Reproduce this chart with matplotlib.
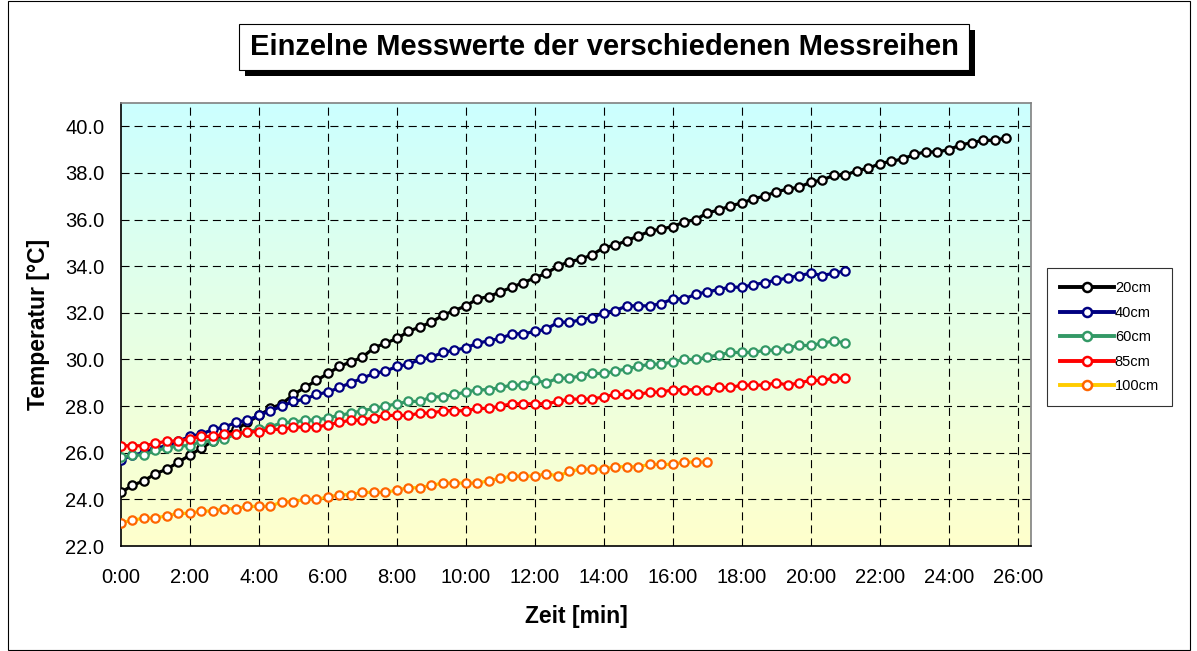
import numpy as np
import matplotlib
matplotlib.use('Agg')
import matplotlib.pyplot as plt
from matplotlib.lines import Line2D
from matplotlib.patches import Rectangle

plt.rcParams['font.family'] = ['Liberation Sans', 'DejaVu Sans']
plt.rcParams['lines.scale_dashes'] = False

# readings every 20 s
interval_s = 20

t_20cm = [24.3, 24.6, 24.8, 25.1, 25.3, 25.6, 25.9,
          26.2, 26.5, 26.8, 27.0, 27.3,
          27.6, 27.9, 28.1, 28.5, 28.8, 29.1, 29.4,
          29.7, 29.9, 30.1, 30.5, 30.7, 30.9, 31.2, 31.4, 31.6, 31.9, 32.1, 32.3, 32.6, 32.7, 32.9, 33.1, 33.3,
          33.5, 33.7, 34.0, 34.2, 34.3, 34.5, 34.8, 34.9, 35.1, 35.3, 35.5, 35.6, 35.7, 35.9,
          36.0, 36.3, 36.4, 36.6, 36.7, 36.9, 37.0, 37.2, 37.3, 37.4,
          37.6, 37.7, 37.9, 37.9, 38.1, 38.2, 38.4, 38.5, 38.6, 38.8, 38.9, 38.9, 39.0, 39.2, 39.3, 39.4, 39.4, 39.5]

t_40cm = [25.7, 25.9, 26.0, 26.2, 26.3, 26.5, 26.7, 26.8,
          27.0, 27.1, 27.3, 27.4, 27.6, 27.8, 28.0, 28.2, 28.3, 28.5, 28.6,
          28.8, 29.0, 29.2, 29.4, 29.5, 29.7, 29.8, 30.0, 30.1, 30.3, 30.4, 30.5, 30.7, 30.8, 30.9, 31.1, 31.1,
          31.2, 31.3, 31.6, 31.6, 31.7,
          31.8, 32.0, 32.1, 32.3, 32.3, 32.3, 32.4, 32.6, 32.6, 32.8, 32.9, 33.0, 33.1, 33.1, 33.2, 33.3,
          33.4, 33.5, 33.6, 33.7,
          33.6, 33.7, 33.8]

t_60cm = [25.8, 25.9, 25.9, 26.1, 26.2, 26.3, 26.3, 26.5, 26.5,
          26.6, 26.8, 26.9, 27.0,
          27.1, 27.3, 27.3, 27.4, 27.4, 27.5,
          27.6, 27.7, 27.8, 27.9, 28.0, 28.1, 28.2, 28.2, 28.4, 28.4, 28.5, 28.6, 28.7, 28.7, 28.8, 28.9,
          28.9, 29.1, 29.0, 29.2, 29.2, 29.3,
          29.4, 29.4, 29.5, 29.6, 29.7, 29.8, 29.8, 29.9, 30.0, 30.0, 30.1, 30.2, 30.3, 30.3, 30.3, 30.4,
          30.4, 30.5, 30.6, 30.6,
          30.7, 30.8, 30.7]

t_85cm = [26.3, 26.3, 26.3, 26.4, 26.5, 26.5, 26.6, 26.7, 26.7, 26.8, 26.8, 26.9, 26.9, 27.0, 27.0,
          27.1, 27.1, 27.1, 27.2,
          27.3, 27.4, 27.4, 27.5, 27.6, 27.6, 27.6, 27.7, 27.7, 27.8, 27.8, 27.8, 27.9, 27.9, 28.0,
          28.1, 28.1, 28.1, 28.1, 28.2,
          28.3, 28.3, 28.3, 28.4, 28.5, 28.5, 28.5, 28.6, 28.6, 28.7, 28.7, 28.7, 28.7, 28.8, 28.8,
          28.9, 28.9, 28.9, 29.0, 28.9, 29.0, 29.1, 29.1, 29.2, 29.2]

t_100cm = [23.0, 23.1, 23.2, 23.2, 23.3, 23.4, 23.4, 23.5, 23.5, 23.6, 23.6, 23.7, 23.7, 23.7,
           23.9, 23.9, 24.0, 24.0, 24.1,
           24.2, 24.2, 24.3, 24.3, 24.3, 24.4, 24.5, 24.5, 24.6, 24.7, 24.7, 24.7, 24.7, 24.8, 24.9,
           25.0, 25.0, 25.0, 25.1, 25.0,
           25.2, 25.3, 25.3, 25.3, 25.4, 25.4, 25.4, 25.5, 25.5, 25.5, 25.6, 25.6, 25.6]

labels = ['20cm', '40cm', '60cm', '85cm', '100cm']
series = [t_20cm, t_40cm, t_60cm, t_85cm, t_100cm]
line_colors = ['#000000', '#000080', '#339966', '#FF0000', '#FFCC00']
marker_colors = ['#000000', '#000080', '#339966', '#FF0000', '#FF6600']

x_ticks = list(range(0, 27, 2))
x_ticklabels = ['%d:00' % m for m in x_ticks]
y_ticks = list(range(22, 41, 2))

W, H = 1197, 651
fig = plt.figure(figsize=(W / 100, H / 100), dpi=100)
fig.patch.set_facecolor('white')

ax = fig.add_axes([121 / W, 1 - 546 / H, (1031 - 121) / W, (546 - 103) / H])

# background gradient (cyan at top -> light yellow at bottom)
grad = np.linspace(0, 1, 256).reshape(-1, 1)
top = np.array([0.80, 1.0, 1.0])
bot = np.array([1.0, 1.0, 0.80])
img = top[None, None, :] * (1 - grad[:, :, None]) + bot[None, None, :] * grad[:, :, None]
ax.imshow(img, extent=[0, 1, 0, 1], transform=ax.transAxes, aspect='auto', zorder=0)

handles = []
for vals, lab, lc, mc in zip(series, labels, line_colors, marker_colors):
    t_min = np.arange(len(vals)) * interval_s / 60.0
    ax.plot(t_min, vals, color=lc, lw=2.3, marker='o', ms=6, mfc='white',
            mec=mc, mew=1.6, zorder=3)
    handles.append(Line2D([], [], color=lc, lw=2.8, marker='o', ms=6.5,
                          mfc='white', mec=mc, mew=1.8))

ax.set_xlim(0, 26.38)
ax.set_ylim(22, 41)
ax.set_xticks(x_ticks)
ax.set_xticklabels(x_ticklabels)
ax.set_yticks(y_ticks)
ax.set_yticklabels(['%.1f' % v for v in y_ticks])
ax.tick_params(length=0, labelsize=14.5, colors='black')
ax.tick_params(axis='y', pad=12)
ax.tick_params(axis='x', pad=16)

dash = (0, (5.8, 3.6))
for x in x_ticks[1:]:
    ax.axvline(x, color='black', lw=0.8, linestyle=dash, zorder=1)
for y in y_ticks[1:]:
    ax.axhline(y, color='black', lw=0.8, linestyle=dash, zorder=1)

for s in ['left', 'bottom']:
    ax.spines[s].set_color('black')
    ax.spines[s].set_linewidth(1.2)
for s in ['top', 'right']:
    ax.spines[s].set_color('#808080')
    ax.spines[s].set_linewidth(1.2)

ax.set_ylabel('Temperatur [°C]', fontsize=16.5, fontweight='bold')
ax.set_xlabel('Zeit [min]', fontsize=16.5, fontweight='bold')
ax.yaxis.set_label_coords((38 - 121) / 910, 0.5)
ax.xaxis.set_label_coords(0.5, (546 - 617) / 443)
ax.yaxis.label.set_va('center')
ax.xaxis.label.set_va('center')

# title box with shadow
fig.patches.append(Rectangle((245 / W, 1 - 76 / H), 730 / W, 46 / H,
                             transform=fig.transFigure, facecolor='black',
                             edgecolor='none', zorder=5))
fig.patches.append(Rectangle((239 / W, 1 - 70 / H), 730 / W, 46 / H,
                             transform=fig.transFigure, facecolor='white',
                             edgecolor='black', lw=0.8, zorder=6))
fig.text(604 / W, 1 - 47 / H, 'Einzelne Messwerte der verschiedenen Messreihen',
         ha='center', va='center', fontsize=21, fontweight='bold', zorder=7)

# outer chart border
fig.patches.append(Rectangle((8 / W, 1 / H), (1190 - 8) / W, (650 - 1) / H,
                             transform=fig.transFigure, fill=False,
                             edgecolor='black', lw=0.8))

leg = fig.legend(handles, labels, loc='upper left',
                 bbox_to_anchor=(1047 / W, 1 - 268 / H), borderaxespad=0,
                 fontsize=10.5, frameon=True, fancybox=False, handlelength=3.7,
                 handletextpad=0.05, labelspacing=0.72, borderpad=0.9,
                 numpoints=1)
leg.get_frame().set_edgecolor('black')
leg.get_frame().set_linewidth(0.8)

fig.savefig('out.png', dpi=100)
